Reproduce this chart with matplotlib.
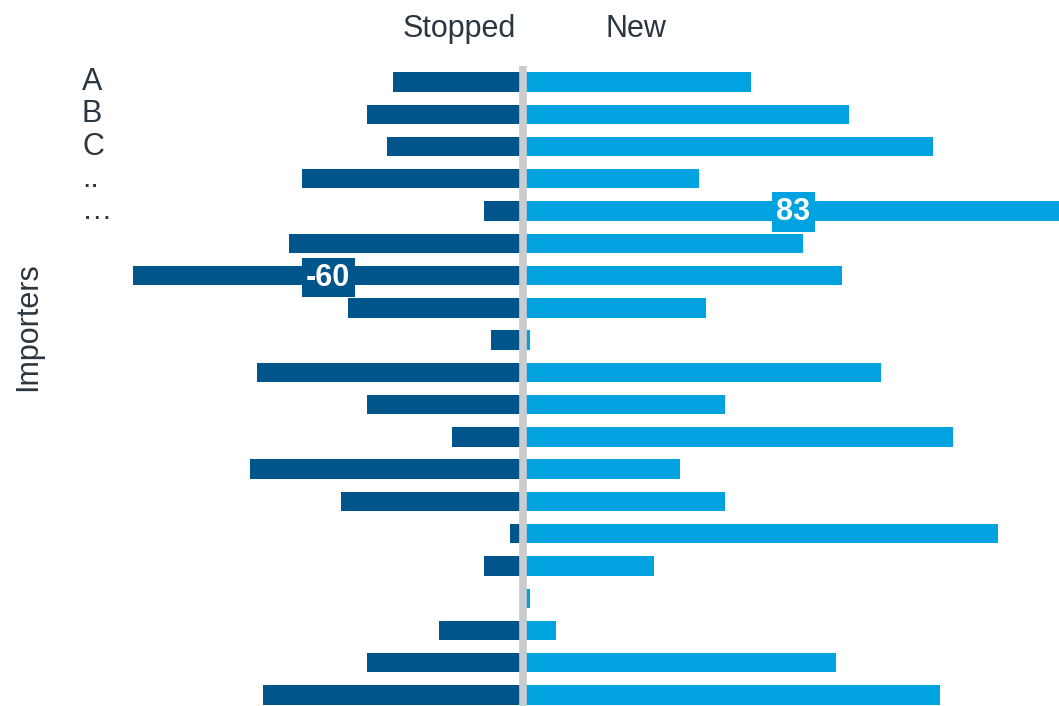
import matplotlib.pyplot as plt
import numpy as np

plt.rcParams['font.family'] = ['Liberation Sans', 'DejaVu Sans']

stopped = [-20, -24, -21, -34, -6, -36, -60, -27, -5, -41,
           -24, -11, -42, -28, -2, -6, 0, -13, -24, -40]
new = [35, 50, 63, 27, 83, 43, 49, 28, 1, 55,
       31, 66, 24, 31, 73, 20, 1, 5, 48, 64]
row_labels = ["A", "B", "C", "..", "\u2026"]
headers = ["Stopped", "New"]

dark = "#00568A"
light = "#00A3E0"
grey = "#C9CDD0"
txt = "#2B3640"

W, H = 1059, 706
fig = plt.figure(figsize=(W / 100, H / 100), dpi=100)
ax = fig.add_axes([133 / W, 0, 1 - 133 / W, (706 - 66) / H])

y = np.arange(len(new))
ax.barh(y, stopped, height=0.6, color=dark, edgecolor="none")
ax.barh(y, new, height=0.6, color=light, edgecolor="none")
ax.axvline(0, color=grey, lw=5.5, zorder=3)

ax.set_xlim(-60, 82.3)
ax.set_ylim(19.34, -0.496)
ax.axis("off")

# value boxes on the extreme bars
i_min = int(np.argmin(stopped))
i_max = int(np.argmax(new))
ax.text(stopped[i_min] / 2, i_min + 0.06, str(stopped[i_min]), ha="center", va="center",
        color="white", fontsize=22, fontweight="bold", zorder=4,
        bbox=dict(boxstyle="square,pad=0.15", fc=dark, ec="none"))
ax.text(new[i_max] / 2, i_max + 0.03, str(new[i_max]), ha="center", va="center",
        color="white", fontsize=22, fontweight="bold", zorder=4,
        bbox=dict(boxstyle="square,pad=0.15", fc=light, ec="none"))

# header words
fig.text(516 / W, 1 - 29 / H, headers[0], ha="right", va="center", fontsize=22, color=txt)
fig.text(606 / W, 1 - 29 / H, headers[1], ha="left", va="center", fontsize=22, color=txt)

# row labels on the left
for i, lab in enumerate(row_labels):
    yy = 82 + i * 32.26
    fig.text(82 / W, 1 - yy / H, lab, ha="left", va="center", fontsize=22, color=txt)

fig.text(28 / W, 1 - 327 / H, "Importers", rotation=90, ha="center", va="center",
         fontsize=22, color=txt)

fig.savefig("out.png", dpi=100)
